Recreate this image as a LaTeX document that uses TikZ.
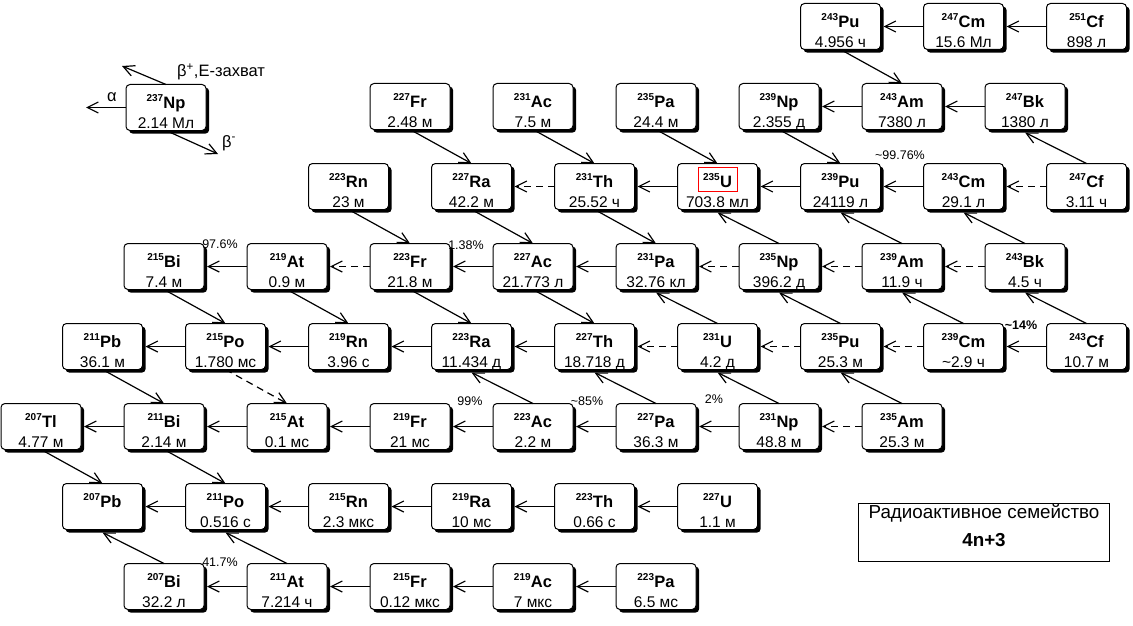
\documentclass[tikz,border=0pt]{standalone}
\usepackage{fontspec}
\setmainfont{Liberation Sans}
\usetikzlibrary{arrows.meta}

\newcommand\nuctext[3]{\vbox to 46pt{\offinterlineskip\hsize=80pt\vskip24pt
\hbox to 80pt{\hss\smash{\raisebox{7pt}{\fontsize{10}{10}\selectfont\bfseries #1}\kern0.3pt{\fontsize{16.5}{16.5}\selectfont\bfseries #2}}\hss}\vskip20pt
\hbox to 80pt{\hss\smash{\fontsize{15.5}{15.5}\selectfont #3}\hss}\vss}}

\newcommand\isoat[6]{%
  \fill[shadowfill] (#2-37,#3-20) rectangle (#2+43.2,#3+26.2);
  \node[nuc] (#1) at (#2,#3) {\nuctext{#4}{#5}{#6}};}
\newcommand\iso[6]{\pgfmathsetmacro\cx{41+61.5*#2}\pgfmathsetmacro\cy{26.5+80*#3}\isoat{#1}{\cx}{\cy}{#4}{#5}{#6}}

\tikzset{
 nuc/.style={draw, line width=1pt, rounded corners=4pt, fill=white, inner sep=0pt, outer sep=0pt},
 shadowfill/.style={fill=black, rounded corners=4pt},
 arr/.style={line width=1.2pt, -{Straight Barb[length=11pt,width=11pt,line width=1.2pt]}},
 hz/.style={arr},
 hzd/.style={hz, dash pattern=on 7pt off 5pt},
 dn/.style={arr},
 dnd/.style={arr, dash pattern=on 7pt off 5pt},
 up/.style={arr},
 pct/.style={font=\fontsize{12.5}{12.5}\selectfont, inner sep=0pt},
 lbl/.style={font=\fontsize{16.5}{16.5}\selectfont, inner sep=0pt},
}

\begin{document}
\begin{tikzpicture}[x=1pt,y=-1pt]
\useasboundingbox (0,0) rectangle (1133,626);

% row 0
\iso{Pu243}{13}{0}{243}{Pu}{4.956 ч}
\iso{Cm247}{15}{0}{247}{Cm}{15.6 Мл}
\iso{Cf251}{17}{0}{251}{Cf}{898 л}
% row 1
\isoat{Np237}{166}{107.5}{237}{Np}{2.14 Мл}
\iso{Fr227}{6}{1}{227}{Fr}{2.48 м}
\iso{Ac231}{8}{1}{231}{Ac}{7.5 м}
\iso{Pa235}{10}{1}{235}{Pa}{24.4 м}
\iso{Np239}{12}{1}{239}{Np}{2.355 д}
\iso{Am243}{14}{1}{243}{Am}{7380 л}
\iso{Bk247}{16}{1}{247}{Bk}{1380 л}
% row 2
\iso{Rn223}{5}{2}{223}{Rn}{23 м}
\iso{Ra227}{7}{2}{227}{Ra}{42.2 м}
\iso{Th231}{9}{2}{231}{Th}{25.52 ч}
\iso{U235}{11}{2}{235}{U}{703.8 мл}
\iso{Pu239}{13}{2}{239}{Pu}{24119 л}
\iso{Cm243}{15}{2}{243}{Cm}{29.1 л}
\iso{Cf247}{17}{2}{247}{Cf}{3.11 ч}
% row 3
\iso{Bi215}{2}{3}{215}{Bi}{7.4 м}
\iso{At219}{4}{3}{219}{At}{0.9 м}
\iso{Fr223}{6}{3}{223}{Fr}{21.8 м}
\iso{Ac227}{8}{3}{227}{Ac}{21.773 л}
\iso{Pa231}{10}{3}{231}{Pa}{32.76 кл}
\iso{Np235}{12}{3}{235}{Np}{396.2 д}
\iso{Am239}{14}{3}{239}{Am}{11.9 ч}
\iso{Bk243}{16}{3}{243}{Bk}{4.5 ч}
% row 4
\iso{Pb211}{1}{4}{211}{Pb}{36.1 м}
\iso{Po215}{3}{4}{215}{Po}{1.780 мс}
\iso{Rn219}{5}{4}{219}{Rn}{3.96 с}
\iso{Ra223}{7}{4}{223}{Ra}{11.434 д}
\iso{Th227}{9}{4}{227}{Th}{18.718 д}
\iso{U231}{11}{4}{231}{U}{4.2 д}
\iso{Pu235}{13}{4}{235}{Pu}{25.3 м}
\iso{Cm239}{15}{4}{239}{Cm}{\textasciitilde2.9 ч}
\iso{Cf243}{17}{4}{243}{Cf}{10.7 м}
% row 5
\iso{Tl207}{0}{5}{207}{Tl}{4.77 м}
\iso{Bi211}{2}{5}{211}{Bi}{2.14 м}
\iso{At215}{4}{5}{215}{At}{0.1 мс}
\iso{Fr219}{6}{5}{219}{Fr}{21 мс}
\iso{Ac223}{8}{5}{223}{Ac}{2.2 м}
\iso{Pa227}{10}{5}{227}{Pa}{36.3 м}
\iso{Np231}{12}{5}{231}{Np}{48.8 м}
\iso{Am235}{14}{5}{235}{Am}{25.3 м}
% row 6
\iso{Pb207}{1}{6}{207}{Pb}{}
\iso{Po211}{3}{6}{211}{Po}{0.516 с}
\iso{Rn215}{5}{6}{215}{Rn}{2.3 мкс}
\iso{Ra219}{7}{6}{219}{Ra}{10 мс}
\iso{Th223}{9}{6}{223}{Th}{0.66 с}
\iso{U227}{11}{6}{227}{U}{1.1 м}
% row 7
\iso{Bi207}{2}{7}{207}{Bi}{32.2 л}
\iso{At211}{4}{7}{211}{At}{7.214 ч}
\iso{Fr215}{6}{7}{215}{Fr}{0.12 мкс}
\iso{Ac219}{8}{7}{219}{Ac}{7 мкс}
\iso{Pa223}{10}{7}{223}{Pa}{6.5 мс}

% red box around 235U
\node[draw=red, line width=0.9pt, minimum width=39pt, minimum height=24pt, inner sep=0pt] (ubox) at (717.5,179) {};

% horizontal solid
\foreach \a/\b in {Cm247/Pu243, Cf251/Cm247, Am243/Np239, Bk247/Am243, U235/Th231, Pu239/U235, Cm243/Pu239,
  At219/Bi215, Ac227/Fr223, Pa231/Ac227, Po215/Pb211, Rn219/Po215, Ra223/Rn219, Th227/Ra223, Cf243/Cm239,
  Bi211/Tl207, At215/Bi211, Fr219/At215, Ac223/Fr219, Pa227/Ac223, Np231/Pa227,
  Po211/Pb207, Rn215/Po211, Ra219/Rn215, Th223/Ra219, U227/Th223,
  At211/Bi207, Fr215/At211, Ac219/Fr215, Pa223/Ac219}
  \draw[hz] (\a.west) -- ([xshift=3pt]\b.east);
% horizontal dashed
\foreach \a/\b in {Th231/Ra227, Cf247/Cm243, Fr223/At219, Np235/Pa231, Am239/Np235, Bk243/Am239,
  U231/Th227, Pu235/U231, Cm239/Pu235, Am235/Np231}
  \draw[hzd] (\a.west) -- ([xshift=3pt]\b.east);
% beta- (down-right)
\foreach \a/\b in {Pu243/Am243, Np239/Pu239, Fr227/Ra227, Ac231/Th231, Pa235/U235, Rn223/Fr223, Ra227/Ac227,
  Th231/Pa231, Bi215/Po215, At219/Rn219, Fr223/Ra223, Ac227/Th227, Pb211/Bi211, Tl207/Pb207, Bi211/Po211}
  \draw[dn] (\a.south) -- (\b.north);
\draw[dnd] (Po215.south) -- (At215.north);
% EC (up-left)
\foreach \a/\b in {Cf247/Bk247, Np235/U235, Am239/Pu239, Bk243/Cm243, U231/Pa231, Pu235/Np235, Cm239/Am239,
  Cf243/Bk243, Ac223/Ra223, Pa227/Th227, Np231/U231, Am235/Pu235, Bi207/Pb207, At211/Po211}
  \draw[up] (\a.north) -- ([yshift=-3pt]\b.south);

% branching labels
\node[pct] (p1) at (900,155) {\textasciitilde99.76\%};
\node[pct] (p2) at (220,244) {97.6\%};
\node[pct] (p3) at (466,245) {1.38\%};
\node[pct, font=\fontsize{12.5}{12.5}\selectfont\bfseries] (p4) at (1021,325) {\textasciitilde14\%};
\node[pct] (p5) at (470,401) {99\%};
\node[pct] (p6) at (587,401) {\textasciitilde85\%};
\node[pct] (p7) at (714,399) {2\%};
\node[pct] (p8) at (220,562) {41.7\%};

% key
\coordinate (kA) at (86,107.5);
\coordinate (kB) at (122,66);
\coordinate (kC) at (218,154);
\draw[arr] (Np237.west) -- (kA);
\draw[arr] (Np237.north) -- (kB);
\draw[arr] (Np237.south) -- (kC);
\node[lbl, anchor=base] (la) at (112,102) {α};
\node[lbl, anchor=base west] (lb) at (177,77) {β\textsuperscript{+},Е-захват};
\node[lbl, anchor=base west] (lc) at (222,147) {β\textsuperscript{-}};

% legend
\node[draw, line width=1pt, minimum width=251pt, minimum height=58pt, inner sep=0pt] (leg) at (984,532) {};
\node[anchor=base, inner sep=0pt, font=\fontsize{18.8}{18.8}\selectfont] (leg1) at (984,518) {Радиоактивное семейство};
\node[anchor=base, inner sep=0pt, font=\fontsize{18.8}{18.8}\selectfont\bfseries] (leg2) at (984,546) {4n+3};
\end{tikzpicture}
\end{document}
